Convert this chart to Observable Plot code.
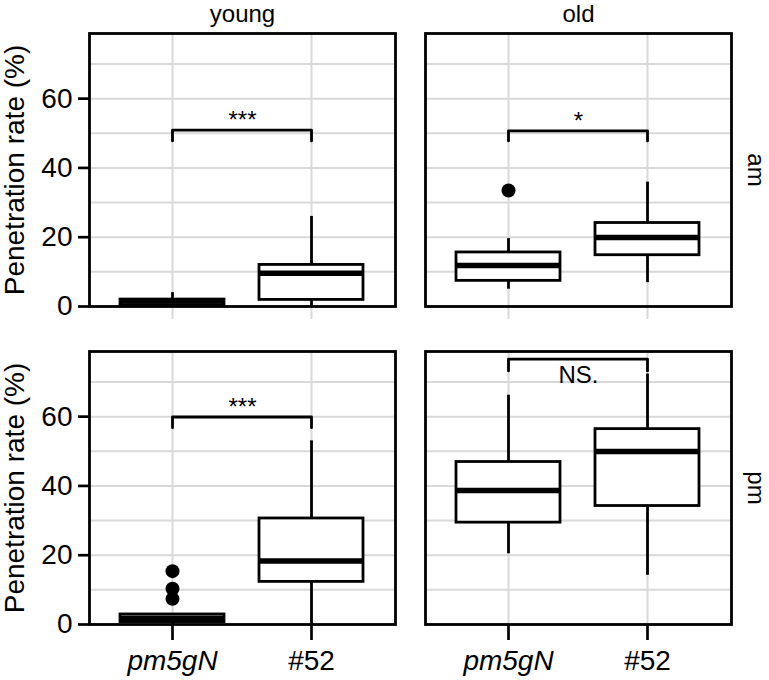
<!DOCTYPE html>
<html>
<head>
<meta charset="utf-8">
<script src="https://cdn.jsdelivr.net/npm/d3@7"></script>
<script src="https://cdn.jsdelivr.net/npm/@observablehq/plot@0.6"></script>
<style>
  body { margin: 0; background: #fff; }
  svg { font-family: "Liberation Sans", Arial, Helvetica, sans-serif; }
</style>
</head>
<body>
<div id="chart"></div>
<script>
// Facet levels and categories
const genotypes = ["pm5gN", "#52"];
const ages = ["young", "old"];
const times = ["am", "pm"];

// Y axis ticks (labelled) and the extra minor grid lines
const yTicks = [0, 20, 40, 60];
const yMinor = [10, 30, 50, 70];
const yMax = 78.8;

// Box summaries (penetration rate, %), one entry per box
const boxAge      = ["young", "young", "old", "old", "young", "young", "old", "old"];
const boxTime     = ["am", "am", "am", "am", "pm", "pm", "pm", "pm"];
const boxGenotype = ["pm5gN", "#52", "pm5gN", "#52", "pm5gN", "#52", "pm5gN", "#52"];
const whiskerLow  = [0,   0,    5.0,  6.9,  0,   0,    20.4, 14.2];
const quart1      = [0.4, 1.9,  7.4,  14.8, 0.7, 12.3, 29.4, 34.2];
const medians     = [1.6, 9.6,  11.8, 19.9, 1.8, 18.3, 38.7, 49.9];
const quart3      = [2.0, 12.0, 15.6, 24.1, 2.9, 30.6, 46.9, 56.4];
const whiskerHigh = [4.0, 26.0, 19.6, 35.9, 2.9, 53.0, 66.2, 72.3];

// Outlying observations
const outAge      = ["old", "young", "young", "young"];
const outTime     = ["am", "pm", "pm", "pm"];
const outGenotype = ["pm5gN", "pm5gN", "pm5gN", "pm5gN"];
const outValue    = [33.5, 15.4, 10.3, 7.4];

// Significance brackets between the two genotypes
const sigAge    = ["young", "old", "young", "old"];
const sigTime   = ["am", "am", "pm", "pm"];
const sigTop    = [50.9, 50.7, 59.9, 76.6];
const sigTip    = [47.8, 47.8, 56.8, 73.2];
const sigLabel  = ["***", "*", "***", "NS."];
const sigLabelY = [50.9, 50.7, 59.9, 69.2];

const boxes = boxGenotype.map((g, i) => ({
  age: boxAge[i], time: boxTime[i], genotype: g,
  lo: whiskerLow[i], q1: quart1[i], med: medians[i], q3: quart3[i], hi: whiskerHigh[i]
}));
const outliers = outValue.map((v, i) => ({
  age: outAge[i], time: outTime[i], genotype: outGenotype[i], value: v
}));
const brackets = sigLabel.map((t, i) => ({
  age: sigAge[i], time: sigTime[i], label: t, labelY: sigLabelY[i]
}));
// bracket outline: tip down at pm5gN, across, tip down at #52
const bracketPath = brackets.flatMap((b, i) => [
  {key: i, age: b.age, time: b.time, genotype: genotypes[0], y: sigTip[i]},
  {key: i, age: b.age, time: b.time, genotype: genotypes[0], y: sigTop[i]},
  {key: i, age: b.age, time: b.time, genotype: genotypes[1], y: sigTop[i]},
  {key: i, age: b.age, time: b.time, genotype: genotypes[1], y: sigTip[i]}
]);

const gridColor = "#d9d9d9";
const stripAge = ages.map(a => ({age: a, time: times[0]}));
const stripTime = times.map(t => ({age: ages[ages.length - 1], time: t}));
const yTitle = times.map(t => ({age: ages[0], time: t}));

const chart = Plot.plot({
  width: 769,
  height: 680,
  marginLeft: 88,
  marginRight: 37,
  marginTop: 32,
  marginBottom: 55,
  style: {background: "white", color: "black", fontSize: "26px"},
  fx: {domain: ages, axis: null, paddingInner: 0.089, paddingOuter: 0},
  fy: {domain: times, axis: null, paddingInner: 0.141, paddingOuter: 0},
  x: {domain: genotypes, paddingInner: 0.25, paddingOuter: 0.225, align: 0.5, axis: null},
  y: {domain: [0, yMax], axis: null},
  marks: [
    // panel grid
    Plot.ruleY(yTicks.concat(yMinor), {y: d => d, stroke: gridColor, strokeWidth: 2}),
    Plot.ruleX(genotypes, {x: d => d, stroke: gridColor, strokeWidth: 2}),
    // axes
    Plot.axisY(yTicks, {anchor: "left", tickSize: 11, tickPadding: 6, fontSize: 28, strokeWidth: 2.7, label: null}),
    Plot.axisX({anchor: "bottom", facetAnchor: "top", tickSize: 13, stroke: gridColor, strokeWidth: 2, tickFormat: () => "", label: null}),
    Plot.axisX([genotypes[0]], {anchor: "bottom", facetAnchor: "bottom", tickSize: 16, tickPadding: 10, fontSize: 28, fontStyle: "italic", strokeWidth: 2.7, label: null}),
    Plot.axisX([genotypes[1]], {anchor: "bottom", facetAnchor: "bottom", tickSize: 16, tickPadding: 10, fontSize: 28, strokeWidth: 2.7, label: null}),
    // boxes
    Plot.ruleX(boxes, {x: "genotype", y1: "q3", y2: "hi", fx: "age", fy: "time", stroke: "black", strokeWidth: 2.8}),
    Plot.ruleX(boxes, {x: "genotype", y1: "lo", y2: "q1", fx: "age", fy: "time", stroke: "black", strokeWidth: 2.8}),
    Plot.barY(boxes, {x: "genotype", y1: "q1", y2: "q3", fx: "age", fy: "time", fill: "white", stroke: "black", strokeWidth: 2.8}),
    Plot.tickY(boxes, {x: "genotype", y: "med", fx: "age", fy: "time", stroke: "black", strokeWidth: 5.5}),
    Plot.dot(outliers, {x: "genotype", y: "value", fx: "age", fy: "time", r: 7, fill: "black", stroke: null}),
    // significance brackets
    Plot.line(bracketPath, {x: "genotype", y: "y", z: "key", fx: "age", fy: "time", stroke: "black", strokeWidth: 2.8, curve: "linear"}),
    Plot.text(brackets, {y: "labelY", text: "label", fx: "age", fy: "time", lineAnchor: "bottom", dy: -2, fontSize: 24}),
    // strips and axis titles
    Plot.text(stripAge, {text: "age", fx: "age", fy: "time", frameAnchor: "top", textAnchor: "middle", lineAnchor: "bottom", dy: -12, fontSize: 24}),
    Plot.text(stripTime, {text: "time", fx: "age", fy: "time", frameAnchor: "right", textAnchor: "middle", dx: 24, rotate: 90, fontSize: 24}),
    Plot.text(yTitle, {text: () => "Penetration rate (%)", fx: "age", fy: "time", frameAnchor: "left", textAnchor: "middle", dx: -66, rotate: -90, lineAnchor: "bottom", fontSize: 28}),
    Plot.frame({stroke: "black", strokeWidth: 2.8})
  ]
});

document.getElementById("chart").appendChild(chart);
</script>
</body>
</html>
